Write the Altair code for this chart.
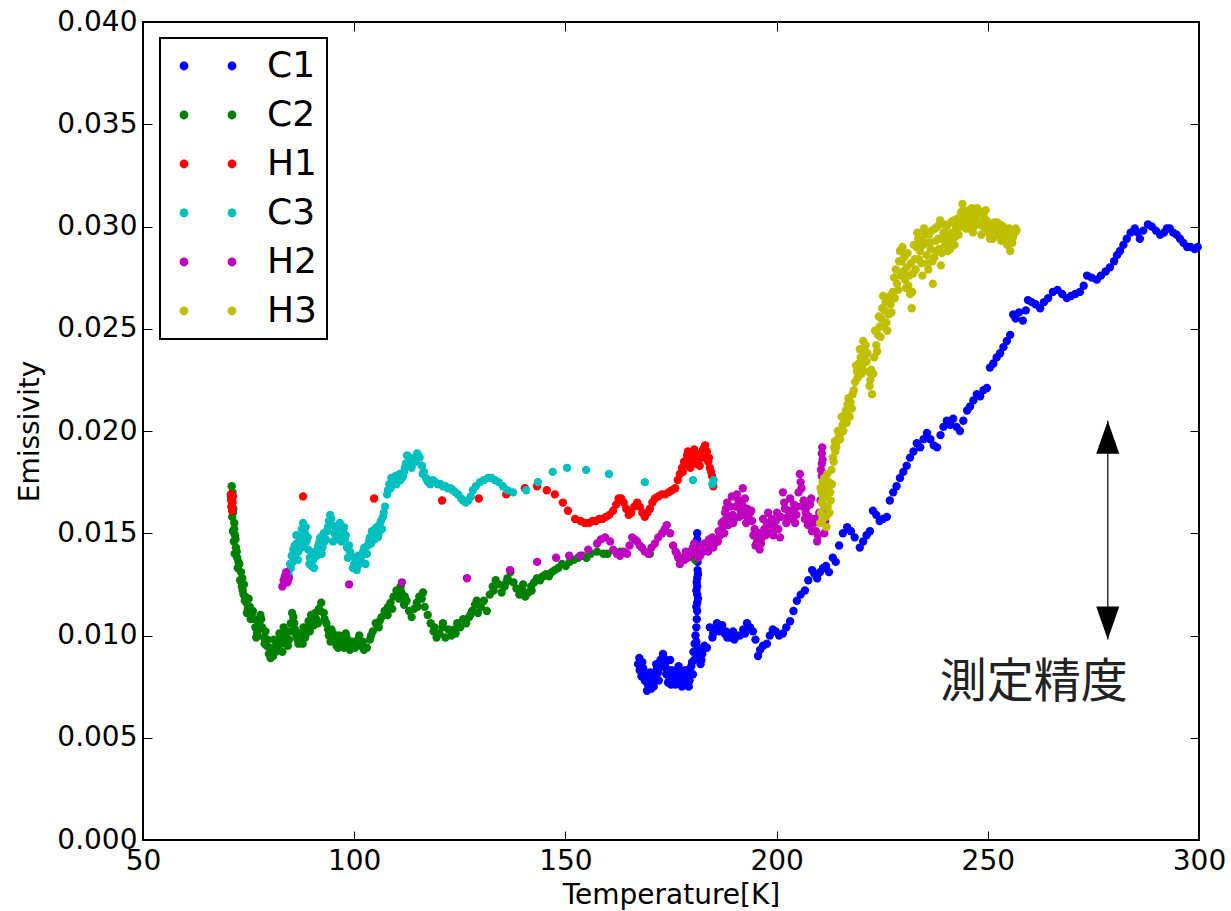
import altair as alt
import pandas as pd

# ---------------- data ----------------
series_names = ["C1", "C2", "H1", "C3", "H2", "H3"]
series_colors = ["#0000ff", "#008000", "#ff0000", "#00bfbf", "#bf00bf", "#bfbf00"]

c1_t = [167.2, 167.6, 168.0, 168.4, 168.8, 169.3, 169.7, 170.1, 170.5, 170.9, 171.3, 171.7, 172.1, 172.5, 173.1,
        173.5, 173.9, 174.3, 174.8, 175.2, 175.6, 176.0, 176.4, 176.8, 177.2, 177.6, 178.0, 178.4, 178.8, 179.2,
        179.6, 180.0, 180.3, 180.6, 180.8, 181.0, 181.1, 181.2, 181.2, 181.2, 181.2, 181.2, 181.3, 181.3, 181.3,
        181.3, 181.2, 181.2, 181.6, 182.0, 182.4, 182.9, 183.5, 184.2, 184.8, 185.4, 185.9, 186.5, 187.1, 187.7,
        188.3, 189.0, 189.7, 190.4, 191.3, 192.1, 193.0, 193.7, 194.4, 195.0, 195.6, 196.1, 196.8, 197.7, 198.4,
        199.1, 199.8, 200.6, 201.5, 202.3, 203.2, 204.0, 204.8, 205.7, 206.7, 207.5, 208.4, 209.0, 209.6, 210.3,
        211.0, 211.7, 212.4, 213.3, 214.0, 214.8, 215.7, 216.7, 217.6, 218.5, 219.7, 220.5, 221.3, 222.1, 222.8,
        223.6, 224.4, 225.2, 226.1, 226.8, 227.6, 228.4, 229.2, 230.0, 230.8, 231.6, 232.4, 233.2, 234.0, 234.8,
        235.6, 236.4, 237.2, 238.0, 238.8, 239.5, 240.3, 241.1, 241.8, 242.6, 243.4, 244.2, 245.1, 245.8, 246.6,
        247.4, 248.2, 249.0, 249.8, 250.5, 251.3, 252.1, 252.9, 253.7, 254.5, 255.3, 256.0, 256.6, 257.4, 258.3,
        259.0, 259.5, 260.4, 261.3, 262.4, 263.3, 264.3, 265.4, 266.5, 267.6, 268.7, 269.7, 270.7, 271.8, 272.7,
        273.5, 274.6, 275.8, 276.8, 277.9, 278.9, 279.9, 280.6, 281.3, 282.1, 282.9, 283.8, 284.8, 285.5, 286.0,
        286.8, 287.9, 288.8, 289.8, 290.8, 291.7, 292.4, 293.1, 293.9, 294.7, 295.5, 296.3, 297.2, 298.0, 299.0,
        299.7]
c1_e = [0.0086, 0.0083, 0.0080, 0.0084, 0.0078, 0.0073, 0.0077, 0.0082, 0.0079, 0.0075, 0.0080, 0.0084, 0.0078, 0.0088, 0.0091,
        0.0086, 0.0081, 0.0077, 0.0088, 0.0083, 0.0079, 0.0076, 0.0081, 0.0085, 0.0078, 0.0075, 0.0080, 0.0083, 0.0077, 0.0075,
        0.0082, 0.0087, 0.0092, 0.0096, 0.0100, 0.0104, 0.0108, 0.0112, 0.0116, 0.0120, 0.0124, 0.0128, 0.0132, 0.0136, 0.0140,
        0.0144, 0.0147, 0.0150, 0.0090, 0.0086, 0.0091, 0.0095, 0.0094, 0.0104, 0.0099, 0.0103, 0.0106, 0.0102, 0.0105, 0.0101,
        0.0099, 0.0099, 0.0102, 0.0100, 0.0100, 0.0103, 0.0106, 0.0104, 0.0102, 0.0098, 0.0090, 0.0093, 0.0095, 0.0096, 0.0100,
        0.0103, 0.0102, 0.0100, 0.0101, 0.0104, 0.0107, 0.0112, 0.0117, 0.0120, 0.0122, 0.0127, 0.0132, 0.0130, 0.0128, 0.0131,
        0.0133, 0.0134, 0.0131, 0.0138, 0.0136, 0.0144, 0.0150, 0.0153, 0.0151, 0.0148, 0.0143, 0.0146, 0.0149, 0.0151, 0.0161,
        0.0159, 0.0156, 0.0157, 0.0158, 0.0166, 0.0170, 0.0173, 0.0177, 0.0180, 0.0183, 0.0187, 0.0190, 0.0194, 0.0192, 0.0196,
        0.0199, 0.0196, 0.0193, 0.0192, 0.0198, 0.0202, 0.0205, 0.0203, 0.0206, 0.0202, 0.0200, 0.0205, 0.0210, 0.0212, 0.0215,
        0.0218, 0.0217, 0.0220, 0.0221, 0.0231, 0.0233, 0.0236, 0.0238, 0.0241, 0.0244, 0.0247, 0.0257, 0.0255, 0.0258, 0.0254,
        0.0259, 0.0264, 0.0263, 0.0262, 0.0260, 0.0263, 0.0265, 0.0268, 0.0269, 0.0267, 0.0265, 0.0266, 0.0267, 0.0268, 0.0271,
        0.0276, 0.0275, 0.0274, 0.0276, 0.0278, 0.0280, 0.0283, 0.0286, 0.0288, 0.0291, 0.0294, 0.0297, 0.0299, 0.0297, 0.0294,
        0.0298, 0.0301, 0.0300, 0.0298, 0.0296, 0.0297, 0.0299, 0.0299, 0.0297, 0.0296, 0.0294, 0.0292, 0.0290, 0.0290, 0.0289,
        0.0290]
c1_extra = [(167.5, 0.0089), (168.2, 0.0087), (169.0, 0.0081), (169.5, 0.0076), (170.3, 0.0074), (171.0, 0.0078),
            (171.5, 0.0086), (172.0, 0.0082), (172.8, 0.0085), (173.3, 0.0089), (173.8, 0.0084), (174.5, 0.0080),
            (175.0, 0.0076), (175.8, 0.0082), (176.2, 0.0078), (177.0, 0.0082), (177.8, 0.0079), (178.2, 0.0076),
            (178.6, 0.0080), (179.4, 0.0078), (179.8, 0.0085), (180.2, 0.0081), (180.5, 0.0088), (180.9, 0.0092),
            (181.0, 0.0097), (181.4, 0.0094), (182.2, 0.0088), (182.6, 0.0093), (181.0, 0.0114), (181.4, 0.0118),
            (181.1, 0.0126), (181.4, 0.0130), (181.1, 0.0138), (181.5, 0.0142), (181.0, 0.0122), (185.0, 0.0101),
            (186.0, 0.0104), (188.0, 0.0102), (190.0, 0.0098), (192.5, 0.0101)]

c2_t = [71.0, 71.2, 71.0, 71.4, 71.1, 71.6, 71.3, 71.8, 71.5, 72.0, 71.7, 72.3, 72.8, 73.2, 73.5, 73.9, 73.6, 74.2, 74.5,
        74.8, 75.3, 75.8, 76.3, 76.6, 77.0, 77.5, 77.8, 78.2, 78.6, 79.0, 79.3, 79.8, 80.2, 80.6, 81.0, 81.4, 81.8, 82.3,
        82.8, 83.3, 83.8, 84.3, 84.8, 85.3, 85.8, 86.3, 86.8, 87.4, 88.0, 88.6, 89.2, 89.8, 90.4, 91.0, 91.6, 92.2, 92.8,
        93.4, 94.0, 94.6, 95.2, 95.8, 96.4, 97.0, 97.6, 98.2, 98.8, 99.5, 100.2, 100.9, 101.6, 102.3, 103.0, 103.7, 104.4,
        105.1, 105.8, 106.5, 107.2, 107.9, 108.6, 109.3, 110.0, 110.6, 111.2, 111.8, 112.4, 113.0, 113.6, 114.2, 114.8,
        115.4, 116.0, 116.7, 117.4, 118.1, 118.8, 119.5, 120.2, 120.9, 121.6, 122.3, 123.0, 123.7, 124.4, 125.1, 125.8,
        126.5, 127.2, 127.9, 128.6, 129.3, 130.0, 130.7, 131.4, 132.1, 132.8, 133.5, 134.2, 134.9, 135.6, 136.3, 137.0,
        137.7, 138.4, 139.1, 139.8, 140.5, 141.2, 141.9, 142.6, 143.3, 144.0, 144.7, 145.4, 146.1, 146.8, 147.5, 148.3,
        149.2, 150.1, 151.0, 152.0, 153.0, 154.0, 155.0, 156.0, 157.5, 159.0, 160.0, 163.0, 170.0, 180.7]
c2_e = [0.0173, 0.0170, 0.0166, 0.0162, 0.0158, 0.0155, 0.0151, 0.0149, 0.0146, 0.0143, 0.0140, 0.0138, 0.0135, 0.0131, 0.0128,
        0.0125, 0.0122, 0.0119, 0.0116, 0.0113, 0.0114, 0.0111, 0.0108, 0.0104, 0.0101, 0.0106, 0.0110, 0.0104, 0.0099, 0.0102,
        0.0095, 0.0091, 0.0089, 0.0093, 0.0098, 0.0092, 0.0097, 0.0101, 0.0096, 0.0104, 0.0099, 0.0095, 0.0102, 0.0111, 0.0106,
        0.0100, 0.0096, 0.0099, 0.0104, 0.0101, 0.0107, 0.0110, 0.0105, 0.0108, 0.0113, 0.0116, 0.0111, 0.0106, 0.0100, 0.0103,
        0.0098, 0.0095, 0.0100, 0.0096, 0.0094, 0.0099, 0.0096, 0.0097, 0.0094, 0.0098, 0.0095, 0.0093, 0.0094, 0.0098, 0.0102,
        0.0106, 0.0104, 0.0109, 0.0112, 0.0110, 0.0116, 0.0119, 0.0122, 0.0118, 0.0121, 0.0115, 0.0117, 0.0112, 0.0109, 0.0113,
        0.0116, 0.0119, 0.0118, 0.0114, 0.0110, 0.0106, 0.0102, 0.0099, 0.0101, 0.0104, 0.0099, 0.0103, 0.0100, 0.0103, 0.0106,
        0.0104, 0.0108, 0.0106, 0.0109, 0.0112, 0.0115, 0.0111, 0.0114, 0.0117, 0.0112, 0.0120, 0.0124, 0.0127, 0.0125, 0.0121,
        0.0124, 0.0128, 0.0131, 0.0126, 0.0123, 0.0120, 0.0122, 0.0119, 0.0121, 0.0124, 0.0126, 0.0128, 0.0127, 0.0129, 0.0130,
        0.0129, 0.0131, 0.0132, 0.0133, 0.0135, 0.0134, 0.0136, 0.0137, 0.0138, 0.0139, 0.0138, 0.0140, 0.0141, 0.0140, 0.0140,
        0.0141, 0.0140, 0.0137]
c2_extra = [(70.8, 0.0168), (71.3, 0.0160), (71.6, 0.0152), (71.9, 0.0147), (72.2, 0.0141), (72.6, 0.0136),
            (72.4, 0.0133), (73.0, 0.0127), (73.4, 0.0124), (73.8, 0.0120), (74.1, 0.0117), (74.6, 0.0111),
            (75.0, 0.0118), (75.5, 0.0108), (76.0, 0.0112), (76.8, 0.0099), (77.3, 0.0103), (78.0, 0.0108),
            (78.8, 0.0096), (79.5, 0.0098), (80.0, 0.0094), (80.8, 0.0090), (81.5, 0.0095), (82.0, 0.0093),
            (82.6, 0.0099), (83.0, 0.0092), (83.6, 0.0097), (84.0, 0.0102), (84.6, 0.0098), (85.0, 0.0106),
            (85.6, 0.0109), (86.0, 0.0103), (86.6, 0.0098), (87.0, 0.0101), (87.8, 0.0096), (88.4, 0.0099),
            (89.0, 0.0104), (89.5, 0.0102), (90.0, 0.0108), (90.8, 0.0111), (91.4, 0.0106), (92.0, 0.0112),
            (93.0, 0.0108), (93.8, 0.0103), (94.4, 0.0097), (95.0, 0.0101), (95.6, 0.0097), (96.2, 0.0094),
            (96.8, 0.0099), (97.4, 0.0097), (98.0, 0.0101), (99.0, 0.0093), (100.5, 0.0096), (101.2, 0.0100),
            (102.0, 0.0097), (104.0, 0.0100), (106.0, 0.0107), (108.0, 0.0114), (109.0, 0.0113), (110.4, 0.0119),
            (111.0, 0.0124), (112.0, 0.0119), (115.0, 0.0114), (116.3, 0.0121), (119.0, 0.0104), (121.0, 0.0106),
            (124.0, 0.0101), (127.5, 0.0110), (129.0, 0.0117), (133.0, 0.0122), (136.0, 0.0126), (140.0, 0.0125),
            (142.0, 0.0122)]

h1_t = [70.8, 71.0, 71.2, 70.9, 71.1, 71.3, 87.9, 104.7, 120.8, 129.5, 136.0, 140.4, 143.3, 145.6, 147.5, 149.4, 150.6,
        152.3, 153.6, 154.6, 155.6, 156.4, 157.2, 158.0, 158.8, 159.6, 160.4, 161.3, 162.0, 162.6, 163.2, 163.8, 164.4,
        165.0, 165.6, 166.3, 167.0, 167.6, 168.2, 168.8, 169.4, 170.0, 170.6, 171.2, 172.0, 172.8, 173.6, 174.4, 175.2,
        176.0, 176.6, 177.1, 177.6, 178.1, 178.8, 179.3, 179.8, 180.3, 180.7, 181.1, 181.6, 182.1, 182.6, 183.1, 183.5,
        183.8, 184.2, 184.7, 185.0]
h1_e = [0.0169, 0.0167, 0.0165, 0.0163, 0.0161, 0.0168, 0.0168, 0.0167, 0.0166, 0.0167, 0.0169, 0.0172, 0.0173, 0.0171,
        0.0169, 0.0165, 0.0161, 0.0157, 0.0156, 0.0155, 0.0155, 0.0156, 0.0156, 0.0157, 0.0157, 0.0158, 0.0159, 0.0161,
        0.0164, 0.0167, 0.0167, 0.0165, 0.0162, 0.0159, 0.0160, 0.0163, 0.0165, 0.0163, 0.0160, 0.0158, 0.0160, 0.0162,
        0.0165, 0.0167, 0.0168, 0.0169, 0.0169, 0.0170, 0.0171, 0.0172, 0.0176, 0.0179, 0.0182, 0.0185, 0.0188, 0.0184,
        0.0187, 0.0190, 0.0188, 0.0184, 0.0186, 0.0189, 0.0191, 0.0193, 0.0190, 0.0185, 0.0182, 0.0178, 0.0173]
h1_extra = [(70.9, 0.0166), (71.1, 0.0163), (177.8, 0.0180), (178.4, 0.0183), (179.0, 0.0190), (179.6, 0.0182),
            (180.0, 0.0186), (180.5, 0.0191), (181.3, 0.0187), (181.8, 0.0183), (182.4, 0.0187), (182.9, 0.0192),
            (183.3, 0.0188), (184.0, 0.0187), (184.5, 0.0180)]

c3_t = [84.0, 84.4, 84.8, 85.2, 85.6, 86.0, 86.4, 86.8, 87.2, 87.6, 87.9, 88.3, 88.7, 89.1, 89.5, 89.9, 90.3, 90.7, 91.1,
        91.5, 92.0, 92.5, 93.0, 93.5, 94.0, 94.3, 94.8, 95.3, 95.8, 96.3, 96.8, 97.3, 97.8, 98.3, 98.5, 99.0, 99.7, 100.3,
        100.9, 101.5, 102.1, 102.7, 103.2, 103.7, 104.2, 104.8, 105.3, 105.8, 106.3, 106.8, 107.3, 107.8, 108.3, 108.8,
        109.3, 109.8, 110.3, 110.8, 111.3, 111.8, 112.2, 112.5, 113.0, 113.6, 114.2, 114.9, 115.5, 116.0, 116.5, 117.0,
        117.5, 118.0, 118.6, 119.2, 119.8, 120.4, 121.0, 121.6, 122.2, 122.8, 123.4, 124.0, 124.6, 125.3, 125.8, 126.4,
        127.0, 127.6, 128.1, 128.8, 129.8, 130.7, 131.7, 132.5, 133.3, 134.2, 135.2, 136.3, 137.6, 140.7, 143.5, 147.0,
        150.4, 154.9, 160.3, 168.8, 180.2, 184.8, 185.1]
c3_e = [0.0127, 0.0131, 0.0135, 0.0139, 0.0142, 0.0138, 0.0145, 0.0141, 0.0148, 0.0152, 0.0155, 0.0150, 0.0146, 0.0142,
        0.0138, 0.0134, 0.0137, 0.0141, 0.0139, 0.0144, 0.0148, 0.0143, 0.0146, 0.0151, 0.0156, 0.0159, 0.0154, 0.0150,
        0.0147, 0.0152, 0.0149, 0.0151, 0.0147, 0.0143, 0.0138, 0.0141, 0.0133, 0.0136, 0.0139, 0.0137, 0.0141, 0.0135,
        0.0144, 0.0148, 0.0151, 0.0147, 0.0153, 0.0150, 0.0156, 0.0158, 0.0163, 0.0169, 0.0174, 0.0177, 0.0175, 0.0178,
        0.0176, 0.0179, 0.0177, 0.0180, 0.0184, 0.0188, 0.0185, 0.0182, 0.0186, 0.0189, 0.0187, 0.0183, 0.0180, 0.0177,
        0.0175, 0.0174, 0.0176, 0.0175, 0.0174, 0.0174, 0.0173, 0.0173, 0.0172, 0.0172, 0.0171, 0.0170, 0.0169, 0.0167,
        0.0166, 0.0165, 0.0166, 0.0168, 0.0171, 0.0173, 0.0175, 0.0176, 0.0177, 0.0177, 0.0176, 0.0175, 0.0173, 0.0171,
        0.0170, 0.0171, 0.0175, 0.0180, 0.0182, 0.0181, 0.0179, 0.0175, 0.0176, 0.0174, 0.0176]
c3_extra = [(84.6, 0.0129), (85.0, 0.0133), (85.5, 0.0136), (85.9, 0.0144), (86.3, 0.0149), (86.7, 0.0137),
            (87.4, 0.0143), (88.0, 0.0145), (88.5, 0.0153), (89.0, 0.0148), (89.4, 0.0135), (90.0, 0.0140),
            (90.5, 0.0133), (91.3, 0.0142), (91.8, 0.0146), (92.3, 0.0140), (92.8, 0.0150), (93.3, 0.0147),
            (93.8, 0.0153), (94.6, 0.0157), (95.0, 0.0146), (95.5, 0.0153), (96.0, 0.0149), (96.6, 0.0155),
            (97.0, 0.0146), (97.6, 0.0153), (98.0, 0.0149), (98.8, 0.0144), (99.3, 0.0139), (100.0, 0.0135),
            (100.6, 0.0132), (101.2, 0.0135), (101.8, 0.0139), (102.4, 0.0143), (103.0, 0.0140), (103.5, 0.0146),
            (104.0, 0.0145), (104.5, 0.0149), (105.0, 0.0152), (105.6, 0.0148), (106.0, 0.0154), (106.6, 0.0152),
            (107.0, 0.0160), (108.0, 0.0171), (108.6, 0.0172), (109.0, 0.0176), (110.0, 0.0174), (111.0, 0.0176),
            (111.6, 0.0178), (112.0, 0.0182), (113.3, 0.0187), (114.5, 0.0185), (115.2, 0.0188), (116.2, 0.0179),
            (117.2, 0.0176)]

h2_t = [83.0, 83.3, 83.6, 83.9, 84.2, 84.5, 98.8, 111.3, 126.7, 136.9, 143.3, 147.8, 150.9, 153.5, 155.4, 157.5, 158.4,
        159.4, 160.6, 161.3, 162.2, 162.9, 163.8, 164.6, 165.2, 165.8, 166.4, 167.0, 167.6, 168.1, 168.8, 169.6, 170.4,
        171.2, 172.0, 172.9, 173.5, 174.0, 174.8, 175.5, 176.1, 176.7, 177.1, 177.6, 178.2, 178.8, 179.4, 180.2, 180.8,
        181.4, 181.9, 182.6, 183.2, 183.8, 184.4, 185.0, 185.6, 186.1, 186.6, 187.1, 187.5, 187.8, 188.3, 188.8, 189.4,
        189.7, 190.3, 191.0, 191.5, 192.0, 192.5, 193.0, 193.7, 194.2, 194.8, 195.4, 196.0, 196.5, 197.1, 197.7, 198.3,
        198.9, 199.5, 200.1, 200.8, 201.5, 202.0, 202.6, 203.2, 203.8, 204.4, 205.0, 205.5, 205.9, 206.4, 206.9, 207.4,
        207.9, 208.4, 209.0, 209.6, 210.1, 210.4, 210.6, 210.7, 210.7, 210.7, 210.8, 211.2, 211.4, 211.5]
h2_e = [0.0124, 0.0127, 0.0129, 0.0131, 0.0126, 0.0128, 0.0125, 0.0126, 0.0128, 0.0132, 0.0136, 0.0138, 0.0139, 0.0139,
        0.0142, 0.0145, 0.0147, 0.0148, 0.0146, 0.0142, 0.0140, 0.0139, 0.0141, 0.0140, 0.0144, 0.0148, 0.0147, 0.0146,
        0.0144, 0.0143, 0.0141, 0.0140, 0.0143, 0.0145, 0.0148, 0.0150, 0.0152, 0.0154, 0.0150, 0.0144, 0.0141, 0.0138,
        0.0135, 0.0138, 0.0137, 0.0139, 0.0141, 0.0143, 0.0141, 0.0138, 0.0139, 0.0141, 0.0143, 0.0141, 0.0145, 0.0143,
        0.0147, 0.0146, 0.0149, 0.0152, 0.0156, 0.0160, 0.0165, 0.0158, 0.0168, 0.0155, 0.0163, 0.0166, 0.0161, 0.0172,
        0.0167, 0.0162, 0.0160, 0.0156, 0.0152, 0.0146, 0.0142, 0.0148, 0.0152, 0.0155, 0.0150, 0.0157, 0.0153, 0.0160,
        0.0148, 0.0170, 0.0162, 0.0158, 0.0167, 0.0161, 0.0155, 0.0163, 0.0179, 0.0172, 0.0166, 0.0160, 0.0154, 0.0164,
        0.0151, 0.0157, 0.0146, 0.0160, 0.0166, 0.0172, 0.0178, 0.0184, 0.0189, 0.0192, 0.0170, 0.0163, 0.0156]
h2_extra = [(176.4, 0.0140), (177.3, 0.0137), (178.5, 0.0141), (179.0, 0.0138), (179.8, 0.0140), (180.5, 0.0145),
            (181.2, 0.0141), (182.2, 0.0144), (183.0, 0.0145), (184.0, 0.0147), (184.8, 0.0148), (185.3, 0.0145),
            (186.3, 0.0151), (187.0, 0.0155), (187.6, 0.0150), (188.0, 0.0162), (188.6, 0.0154), (189.0, 0.0163),
            (189.6, 0.0159), (190.0, 0.0157), (190.6, 0.0169), (191.2, 0.0158), (191.8, 0.0164), (192.3, 0.0159),
            (192.8, 0.0155), (193.3, 0.0158), (194.0, 0.0161), (194.5, 0.0149), (195.0, 0.0144), (195.8, 0.0150),
            (196.3, 0.0145), (196.8, 0.0157), (197.4, 0.0149), (198.0, 0.0160), (198.6, 0.0154), (199.2, 0.0149),
            (199.8, 0.0156), (200.4, 0.0152), (201.0, 0.0158), (201.8, 0.0165), (202.3, 0.0155), (202.9, 0.0161),
            (203.5, 0.0157), (204.1, 0.0164), (204.7, 0.0159), (205.2, 0.0170), (205.7, 0.0175), (206.2, 0.0163),
            (206.7, 0.0157), (207.2, 0.0163), (207.7, 0.0158), (208.2, 0.0167), (208.7, 0.0155), (209.3, 0.0151),
            (209.8, 0.0149), (210.2, 0.0155), (210.5, 0.0181), (210.9, 0.0186), (211.0, 0.0160), (211.3, 0.0150)]

h3_t = [210.3, 210.5, 210.7, 210.6, 210.9, 211.1, 211.4, 211.6, 211.8, 212.0, 212.2, 212.5, 212.8, 213.1, 213.3, 213.6,
        213.9, 214.3, 214.7, 215.2, 215.6, 216.0, 216.4, 216.8, 217.3, 217.8, 218.0, 218.6, 219.0, 219.5, 219.9, 220.3,
        220.5, 220.9, 221.3, 221.8, 222.2, 222.6, 223.1, 223.6, 224.0, 224.4, 224.8, 225.2, 225.6, 226.0, 226.5, 227.0,
        227.5, 228.0, 228.5, 229.2, 229.6, 230.0, 230.4, 230.8, 231.2, 231.6, 232.0, 232.3, 232.7, 233.1, 233.5, 233.9,
        234.3, 234.7, 235.1, 235.5, 235.9, 236.3, 236.7, 237.0, 237.3, 237.7, 238.1, 238.5, 238.9, 239.3, 239.7, 240.1,
        240.5, 240.9, 241.3, 241.7, 242.1, 242.5, 242.9, 243.3, 243.7, 244.0, 244.4, 244.8, 245.2, 245.6, 246.0, 246.5,
        247.0, 247.5, 248.0, 248.5, 249.0, 249.5, 250.0, 250.5, 251.0, 251.5, 252.0, 252.5, 252.9, 253.4, 253.9, 254.4,
        254.9, 255.3, 255.8, 256.4, 256.8]
h3_e = [0.0155, 0.0160, 0.0165, 0.0170, 0.0175, 0.0158, 0.0163, 0.0168, 0.0153, 0.0179, 0.0172, 0.0160, 0.0166, 0.0174,
        0.0187, 0.0192, 0.0190, 0.0195, 0.0197, 0.0199, 0.0203, 0.0206, 0.0210, 0.0213, 0.0207, 0.0211, 0.0218, 0.0224,
        0.0229, 0.0233, 0.0236, 0.0231, 0.0244, 0.0239, 0.0234, 0.0229, 0.0225, 0.0218, 0.0236, 0.0242, 0.0247, 0.0251,
        0.0255, 0.0266, 0.0259, 0.0253, 0.0257, 0.0262, 0.0268, 0.0265, 0.0272, 0.0288, 0.0283, 0.0278, 0.0274, 0.0280,
        0.0271, 0.0267, 0.0260, 0.0277, 0.0284, 0.0290, 0.0294, 0.0288, 0.0282, 0.0291, 0.0296, 0.0286, 0.0279, 0.0292,
        0.0298, 0.0272, 0.0285, 0.0293, 0.0300, 0.0289, 0.0281, 0.0294, 0.0301, 0.0296, 0.0288, 0.0293, 0.0302, 0.0297,
        0.0291, 0.0299, 0.0304, 0.0300, 0.0307, 0.0311, 0.0305, 0.0299, 0.0303, 0.0308, 0.0302, 0.0297, 0.0304, 0.0309,
        0.0301, 0.0296, 0.0305, 0.0308, 0.0300, 0.0294, 0.0298, 0.0302, 0.0299, 0.0296, 0.0301, 0.0297, 0.0293, 0.0298,
        0.0295, 0.0288, 0.0292, 0.0297, 0.0298]
h3_extra = [(210.4, 0.0172), (210.8, 0.0156), (211.0, 0.0167), (211.3, 0.0177), (211.7, 0.0158), (212.1, 0.0163),
            (212.4, 0.0175), (212.7, 0.0170), (213.0, 0.0181), (213.5, 0.0185), (213.8, 0.0195), (214.1, 0.0192),
            (214.5, 0.0200), (215.0, 0.0196), (215.4, 0.0207), (215.8, 0.0200), (216.2, 0.0208), (216.6, 0.0204),
            (217.0, 0.0216), (217.5, 0.0214), (218.3, 0.0220), (218.8, 0.0232), (219.2, 0.0226), (219.7, 0.0240),
            (220.1, 0.0228), (220.7, 0.0236), (221.1, 0.0242), (221.5, 0.0238), (222.0, 0.0222), (222.4, 0.0230),
            (222.9, 0.0228), (223.3, 0.0249), (223.8, 0.0239), (224.2, 0.0256), (224.6, 0.0246), (225.0, 0.0260),
            (225.4, 0.0251), (225.8, 0.0263), (226.2, 0.0249), (226.8, 0.0266), (227.2, 0.0258), (227.8, 0.0275),
            (228.2, 0.0279), (228.8, 0.0269), (229.0, 0.0283), (229.4, 0.0276), (229.8, 0.0290), (230.2, 0.0285),
            (230.6, 0.0270), (231.0, 0.0287), (231.4, 0.0276), (231.8, 0.0282), (232.1, 0.0268), (232.5, 0.0291),
            (232.9, 0.0279), (233.3, 0.0297), (233.7, 0.0284), (234.1, 0.0293), (234.5, 0.0276), (234.9, 0.0299),
            (235.3, 0.0292), (235.7, 0.0282), (236.1, 0.0296), (236.5, 0.0289), (236.9, 0.0283), (237.5, 0.0299),
            (237.9, 0.0288), (238.3, 0.0294), (238.7, 0.0303), (239.1, 0.0287), (239.5, 0.0297), (239.9, 0.0291),
            (240.3, 0.0300), (240.7, 0.0296), (241.1, 0.0289), (241.5, 0.0294), (241.9, 0.0303), (242.3, 0.0295),
            (242.7, 0.0301), (243.1, 0.0296), (243.5, 0.0303), (243.9, 0.0300), (244.2, 0.0308), (244.6, 0.0301),
            (245.0, 0.0306), (245.4, 0.0299), (245.8, 0.0305), (246.2, 0.0309), (246.7, 0.0300), (247.2, 0.0306),
            (247.7, 0.0302), (248.2, 0.0307), (248.7, 0.0303), (249.2, 0.0299), (249.7, 0.0303), (250.2, 0.0297),
            (250.7, 0.0301), (251.2, 0.0294), (251.7, 0.0299), (252.2, 0.0302), (252.7, 0.0298), (253.2, 0.0293),
            (253.6, 0.0300), (254.1, 0.0296), (254.6, 0.0291), (255.1, 0.0299), (255.5, 0.0293), (256.0, 0.0295),
            (256.6, 0.0299)]

# annotation (double arrow + label)
arrow_t = [278.4]
arrow_low = [0.0098]
arrow_high = [0.0205]
note_t = [260.9]
note_e = [0.0077]
note_text = ["測定精度"]

x_ticks = [50, 100, 150, 200, 250, 300]
y_ticks = [0.0, 0.005, 0.010, 0.015, 0.020, 0.025, 0.030, 0.035, 0.040]

# ---------------- build ----------------
frames = []
for name, t, e, extra in zip(series_names,
                             [c1_t, c2_t, h1_t, c3_t, h2_t, h3_t],
                             [c1_e, c2_e, h1_e, c3_e, h2_e, h3_e],
                             [c1_extra, c2_extra, h1_extra, c3_extra, h2_extra, h3_extra]):
    tt = list(t) + [p[0] for p in extra]
    ee = list(e) + [p[1] for p in extra]
    frames.append(pd.DataFrame({"T": tt, "E": ee, "series": name}))
df = pd.concat(frames, ignore_index=True)

arrow_df = pd.DataFrame({"T": arrow_t, "lo": arrow_low, "hi": arrow_high})
note_df = pd.DataFrame({"T": note_t, "E": note_e, "txt": note_text})

FONT = "DejaVu Sans"


def xs():
    return alt.Scale(domain=[50, 300], nice=False, zero=False)


def ys():
    return alt.Scale(domain=[0, 0.04], nice=False, zero=False)


two_dots = ("M-7.1,0A1.1,1.1,0,1,0,-4.9,0A1.1,1.1,0,1,0,-7.1,0Z"
            "M4.9,0A1.1,1.1,0,1,0,7.1,0A1.1,1.1,0,1,0,4.9,0Z")

points = alt.Chart(df).mark_circle(size=70, opacity=1).encode(
    x=alt.X("T:Q", scale=xs(),
            axis=alt.Axis(orient="bottom", values=x_ticks, format="d", title="Temperature[K]",
                          offset=-9, tickSize=9, domain=False, grid=False, labelFlush=False,
                          labelOverlap=False, labelPadding=7, labelFontSize=28, titleFontSize=28,
                          titlePadding=6, labelFont=FONT, titleFont=FONT, titleFontWeight="normal",
                          tickColor="black", labelColor="black", titleColor="black")),
    y=alt.Y("E:Q", scale=ys(),
            axis=alt.Axis(orient="left", values=y_ticks, format=".3f", title="Emissivity",
                          offset=-9, tickSize=9, domain=False, grid=False, labelFlush=False,
                          labelOverlap=False, labelPadding=6, labelFontSize=28, titleFontSize=28,
                          titlePadding=12, labelFont=FONT, titleFont=FONT, titleFontWeight="normal",
                          tickColor="black", labelColor="black", titleColor="black")),
    color=alt.Color("series:N",
                    scale=alt.Scale(domain=series_names, range=series_colors),
                    legend=alt.Legend(orient="none", legendX=17, legendY=16, title=None,
                                      symbolType=two_dots, symbolSize=64, symbolOffset=20,
                                      labelOffset=41, labelFontSize=36, labelFont=FONT,
                                      labelColor="black", rowPadding=13, padding=10,
                                      strokeColor="black", fillColor="white",
                                      symbolStrokeWidth=0, symbolOpacity=1)),
)

rule = alt.Chart(arrow_df).mark_rule(color="#333333", strokeWidth=1.5).encode(
    x=alt.X("T:Q", scale=xs(),
            axis=alt.Axis(orient="top", values=x_ticks, labels=False, title=None, offset=-9,
                          tickSize=9, domain=False, grid=False, tickColor="black")),
    y=alt.Y("lo:Q", scale=ys(),
            axis=alt.Axis(orient="right", values=y_ticks, labels=False, title=None, offset=-9,
                          tickSize=9, domain=False, grid=False, tickColor="black")),
    y2="hi:Q",
)

head_up = alt.Chart(arrow_df).mark_point(
    shape="M0,0L-0.7,2L0.7,2Z", size=1089, filled=True, color="black", opacity=1
).encode(
    x=alt.X("T:Q", scale=xs(), axis=None),
    y=alt.Y("hi:Q", scale=ys(), axis=None),
)

head_down = alt.Chart(arrow_df).mark_point(
    shape="M0,0L-0.7,-2L0.7,-2Z", size=1089, filled=True, color="black", opacity=1
).encode(
    x=alt.X("T:Q", scale=xs(), axis=None),
    y=alt.Y("lo:Q", scale=ys(), axis=None),
)

note = alt.Chart(note_df).mark_text(
    font="Noto Sans CJK JP", fontSize=47, color="#222222", align="center", baseline="middle"
).encode(
    x=alt.X("T:Q", scale=xs(), axis=None),
    y=alt.Y("E:Q", scale=ys(), axis=None),
    text="txt:N",
)

chart = alt.layer(points, rule, head_up, head_down, note).resolve_scale(
    x="independent", y="independent"
).properties(
    width=1056, height=818,
    autosize=alt.AutoSizeParams(type="none"),
    padding={"left": 143, "top": 22, "right": 32, "bottom": 71},
    background="white",
).configure_view(
    stroke="black", strokeWidth=2
).configure_legend(
    strokeWidth=2, cornerRadius=0
)

chart.save("out.html", embed_options={"renderer": "svg", "actions": False})
